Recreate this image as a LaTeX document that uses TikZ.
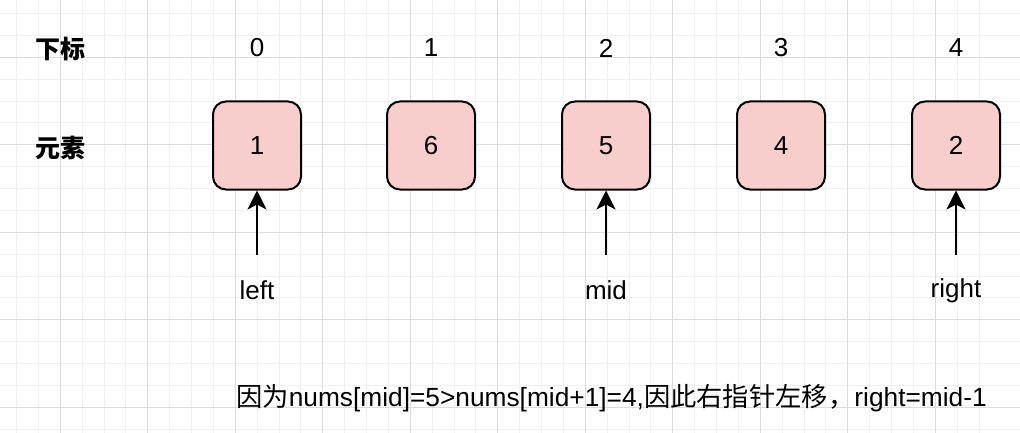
\documentclass[tikz,border=0pt]{standalone}
\usepackage{fontspec}
\setmainfont{Liberation Sans}
\newfontfamily\cjk{Noto Sans CJK SC}
\usetikzlibrary{arrows.meta}
\definecolor{boxfill}{HTML}{F8CECC}
\definecolor{gridmajor}{HTML}{DCDCDC}
\definecolor{gridminor}{HTML}{F0F0F0}
\tikzset{
  elem/.style={draw=black, line width=2pt, fill=boxfill, rounded corners=13pt,
    minimum width=88pt, minimum height=88pt, inner sep=0pt,
    font=\fontsize{26}{31}\selectfont},
  lbl/.style={inner sep=0pt, font=\fontsize{26}{31}\selectfont},
  expl/.style={inner sep=0pt, font=\fontsize{26.3}{31}\selectfont},
  head/.style={inner sep=0pt, font=\fontsize{25}{30}\selectfont\cjk\bfseries},
  ptr/.style={line width=2.4pt, -{Stealth[length=19pt,width=19pt,inset=5pt]}}
}
\begin{document}
\begin{tikzpicture}[x=1pt,y=-1pt]
\useasboundingbox (0,0) rectangle (1020,433);
\fill[white] (0,0) rectangle (1020,433);
% minor grid
\foreach \i in {-3,...,44} {
  \draw[gridminor, line width=1pt] ({16.55+21.875*\i},0) -- ({16.55+21.875*\i},433);
}
\foreach \i in {0,...,19} {
  \draw[gridminor, line width=1pt] (0,{13.55+21.875*\i}) -- (1020,{13.55+21.875*\i});
}
% major grid
\foreach \i in {0,...,11} {
  \draw[gridmajor, line width=1pt] ({60.3+87.5*\i},0) -- ({60.3+87.5*\i},433);
}
\foreach \i in {0,...,4} {
  \draw[gridmajor, line width=1pt] (0,{57.3+87.5*\i}) -- (1020,{57.3+87.5*\i});
}
% headings
\node[head] (hidx) at (60,49) {下标};
\node[head] (helem) at (60,148) {元素};
% indices
\node[lbl] (i0) at (257,48) {0};
\node[lbl] (i1) at (431,48) {1};
\node[lbl] (i2) at (606,48) {2};
\node[lbl] (i3) at (781,48) {3};
\node[lbl] (i4) at (956,48) {4};
% elements
\node[elem] (e0) at (257,145.5) {\raisebox{-1.5pt}{1}};
\node[elem] (e1) at (431,145.5) {\raisebox{-1.5pt}{6}};
\node[elem] (e2) at (606,145.5) {\raisebox{-1.5pt}{5}};
\node[elem] (e3) at (781,145.5) {\raisebox{-1.5pt}{4}};
\node[elem] (e4) at (956,145.5) {\raisebox{-1.5pt}{2}};
% pointer labels
\node[lbl] (pl) at (257,290) {left};
\node[lbl] (pm) at (606,290) {mid};
\node[lbl] (pr) at (956,291) {right};
\coordinate (sl) at (257,255);
\coordinate (sm) at (606,255);
\coordinate (sr) at (956,255);
\draw[ptr] (sl) -- (e0.south);
\draw[ptr] (sm) -- (e2.south);
\draw[ptr] (sr) -- (e4.south);
% explanation
\node[expl, anchor=west] (expl) at (236,398) {{\cjk 因为}nums[mid]=5>nums[mid+1]=4,{\cjk 因此右指针左移，}right=mid-1};
\end{tikzpicture}
\end{document}
